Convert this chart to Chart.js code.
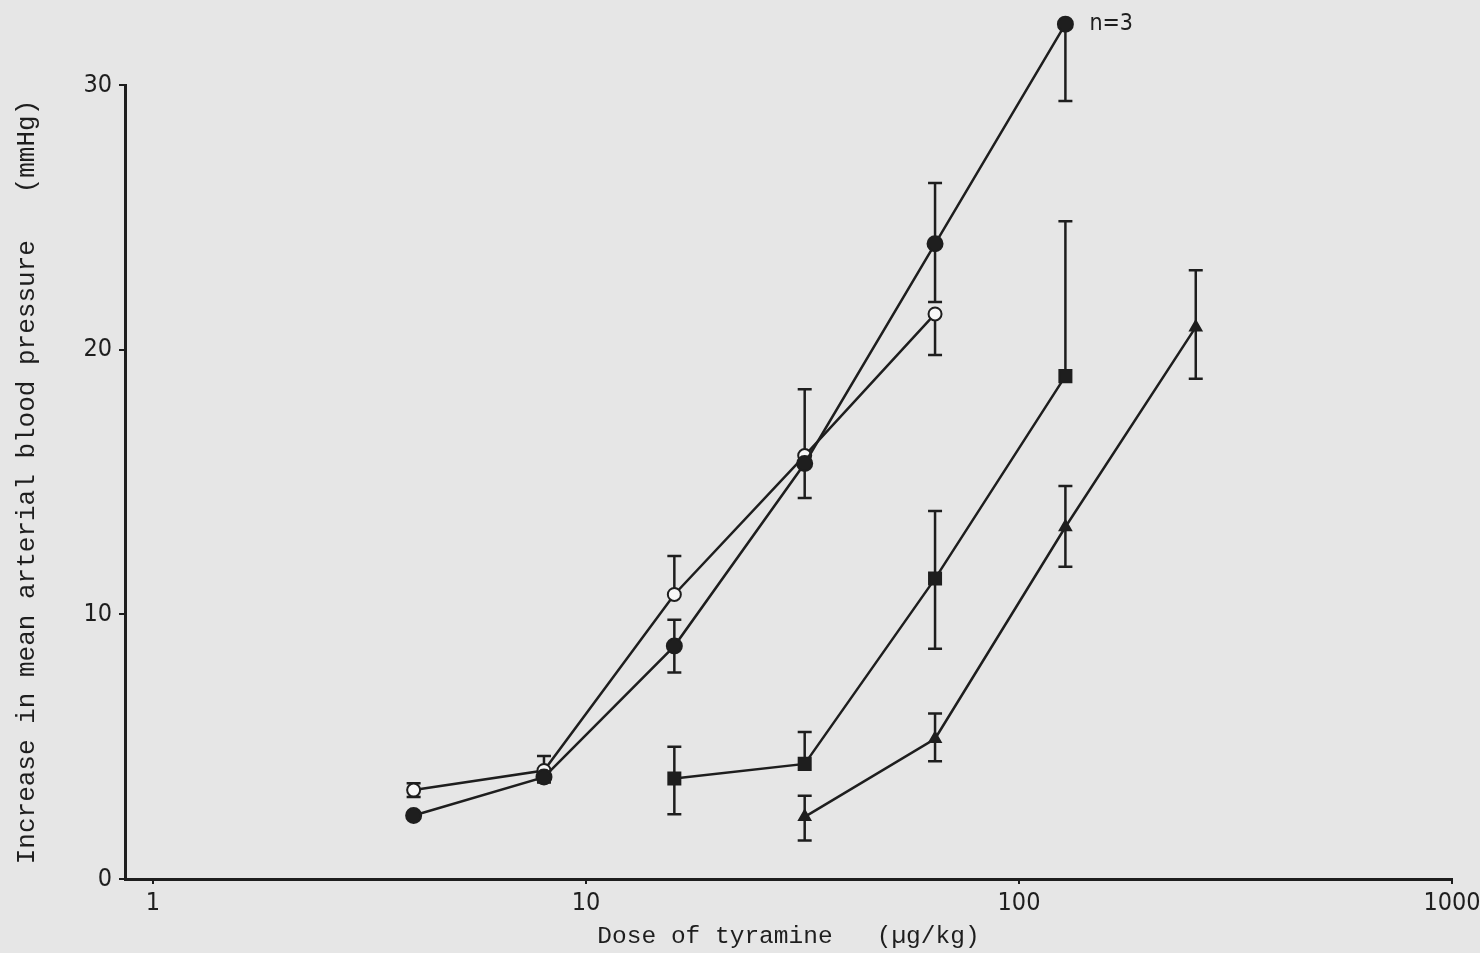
<!DOCTYPE html>
<html>
<head>
<meta charset="utf-8">
<script src="https://cdn.jsdelivr.net/npm/chart.js@4"></script>
<style>
  body { margin: 0; background: #e6e6e6; }
  #wrap { width: 1480px; height: 953px; }
</style>
</head>
<body>
<div id="wrap"><canvas id="tyramine"></canvas></div>
<script>
// dose (µg/kg) and response (mmHg)
var doseFilled = [4, 8, 16, 32, 64, 128];
var filledMean = [2.4, 3.85, 8.8, 15.7, 24.0, 32.3];
var filledUpper = [null, null, 9.8, null, 26.3, null];
var filledLower = [null, 3.65, 7.8, 14.4, 21.8, 29.4];

var doseOpen = [4, 8, 16, 32, 64];
var openMean = [3.36, 4.1, 10.75, 16.0, 21.35];
var openUpper = [3.62, 4.65, 12.2, 18.5, null];
var openLower = [3.1, null, null, null, 19.8];

var doseSquare = [16, 32, 64, 128];
var squareMean = [3.8, 4.35, 11.35, 19.0];
var squareUpper = [5.0, 5.55, 13.9, 24.85];
var squareLower = [2.45, null, 8.7, null];

var doseTriangle = [32, 64, 128, 256];
var triangleMean = [2.35, 5.3, 13.3, 20.85];
var triangleUpper = [3.15, 6.25, 14.85, 23.0];
var triangleLower = [1.45, 4.45, 11.8, 18.9];

var xTicks = [1, 10, 100, 1000];
var yTicks = [0, 10, 20, 30];
var nLabel = "n=3";

var ink = "#1e1e1e";
var tickFont = { family: "'Liberation Sans Narrow', 'DejaVu Sans Condensed', sans-serif", size: 25 };
var titleFont = { family: "'Liberation Mono', 'DejaVu Sans Mono', monospace", size: 24.5 };

function pts(xs, ys) {
  return xs.map(function (x, i) { return { x: x, y: ys[i] }; });
}

function makeSet(label, xs, ys, up, lo, style, fill, r) {
  return {
    label: label,
    data: pts(xs, ys),
    upper: up,
    lower: lo,
    borderColor: ink,
    borderWidth: 2.5,
    pointStyle: style,
    pointRadius: r,
    pointBackgroundColor: fill,
    pointBorderColor: ink,
    pointBorderWidth: 2,
    clip: false,
    tension: 0
  };
}

// Fehlerbalken selbst zeichnen
var errorBars = {
  id: "errorBars",
  beforeDatasetsDraw: function (chart) {
    var ctx = chart.ctx;
    var yScale = chart.scales.y;
    ctx.save();
    ctx.strokeStyle = ink;
    ctx.lineWidth = 2.5;
    chart.data.datasets.forEach(function (ds, i) {
      var meta = chart.getDatasetMeta(i);
      meta.data.forEach(function (pt, j) {
        var yMid = pt.y;
        [ds.upper[j], ds.lower[j]].forEach(function (v) {
          if (v === null || v === undefined) return;
          var yv = yScale.getPixelForValue(v);
          ctx.beginPath();
          ctx.moveTo(pt.x, yMid);
          ctx.lineTo(pt.x, yv);
          ctx.moveTo(pt.x - 7, yv);
          ctx.lineTo(pt.x + 7, yv);
          ctx.stroke();
        });
      });
    });
    ctx.restore();
  },
  afterDatasetsDraw: function (chart) {
    var ctx = chart.ctx;
    var area = chart.chartArea;
    var full = { left: 0, top: 0, right: chart.width, bottom: chart.height };
    // Punkte oberhalb der Achse (n=3) auch zeichnen
    chart.data.datasets.forEach(function (ds, i) {
      chart.getDatasetMeta(i).data.forEach(function (pt) {
        if (pt.y < area.top || pt.y > area.bottom) pt.draw(ctx, full);
      });
    });
    var meta = chart.getDatasetMeta(0);
    var last = meta.data[meta.data.length - 1];
    ctx.save();
    ctx.fillStyle = ink;
    ctx.font = "23px " + tickFont.family;
    ctx.textBaseline = "middle";
    ctx.fillText(nLabel, last.x + 24, last.y);
    ctx.restore();
  }
};

var ctx = document.getElementById("tyramine");
var myChart = new Chart(ctx, {
  type: "line",
  data: {
    datasets: [
      makeSet("filled circle", doseFilled, filledMean, filledUpper, filledLower, "circle", ink, 7.5),
      makeSet("open circle", doseOpen, openMean, openUpper, openLower, "circle", "#f6f6f6", 6.5),
      makeSet("square", doseSquare, squareMean, squareUpper, squareLower, "rect", ink, 8.5),
      makeSet("triangle", doseTriangle, triangleMean, triangleUpper, triangleLower, "triangle", ink, 6.5)
    ]
  },
  options: {
    responsive: true,
    maintainAspectRatio: false,
    animation: false,
    layout: {
      padding: { top: 85, right: 28, left: 0, bottom: 0 }
    },
    plugins: {
      legend: { display: false },
      tooltip: { enabled: false }
    },
    scales: {
      x: {
        type: "logarithmic",
        min: 0.862,
        max: 1000,
        afterBuildTicks: function (scale) {
          scale.ticks = xTicks.map(function (v) { return { value: v }; });
        },
        afterFit: function (scale) {
          scale.height = 74;
          scale.paddingLeft = 0;
          scale.paddingRight = 0;
        },
        border: { display: true, color: ink, width: 3 },
        grid: { display: true, drawOnChartArea: false, tickLength: 5, color: ink, lineWidth: 2 },
        ticks: {
          color: ink,
          font: tickFont,
          padding: 4,
          maxRotation: 0,
          autoSkip: false,
          callback: function (v) { return String(v); }
        },
        title: {
          display: true,
          text: "Dose of tyramine   (\u00b5g/kg)",
          color: ink,
          font: titleFont,
          padding: { top: 0, bottom: 2 }
        }
      },
      y: {
        min: 0,
        max: 30,
        afterBuildTicks: function (scale) {
          scale.ticks = yTicks.map(function (v) { return { value: v }; });
        },
        afterFit: function (scale) { scale.width = 125; },
        border: { display: true, color: ink, width: 3 },
        grid: { display: true, drawOnChartArea: false, tickLength: 6, color: ink, lineWidth: 2 },
        ticks: {
          color: ink,
          font: tickFont,
          padding: 7
        },
        title: {
          display: true,
          text: "Increase in mean arterial blood pressure   (mmHg)",
          color: ink,
          font: { family: titleFont.family, size: 26 },
          padding: { top: 12, bottom: 0 }
        }
      }
    }
  },
  plugins: [errorBars]
});
</script>
</body>
</html>
